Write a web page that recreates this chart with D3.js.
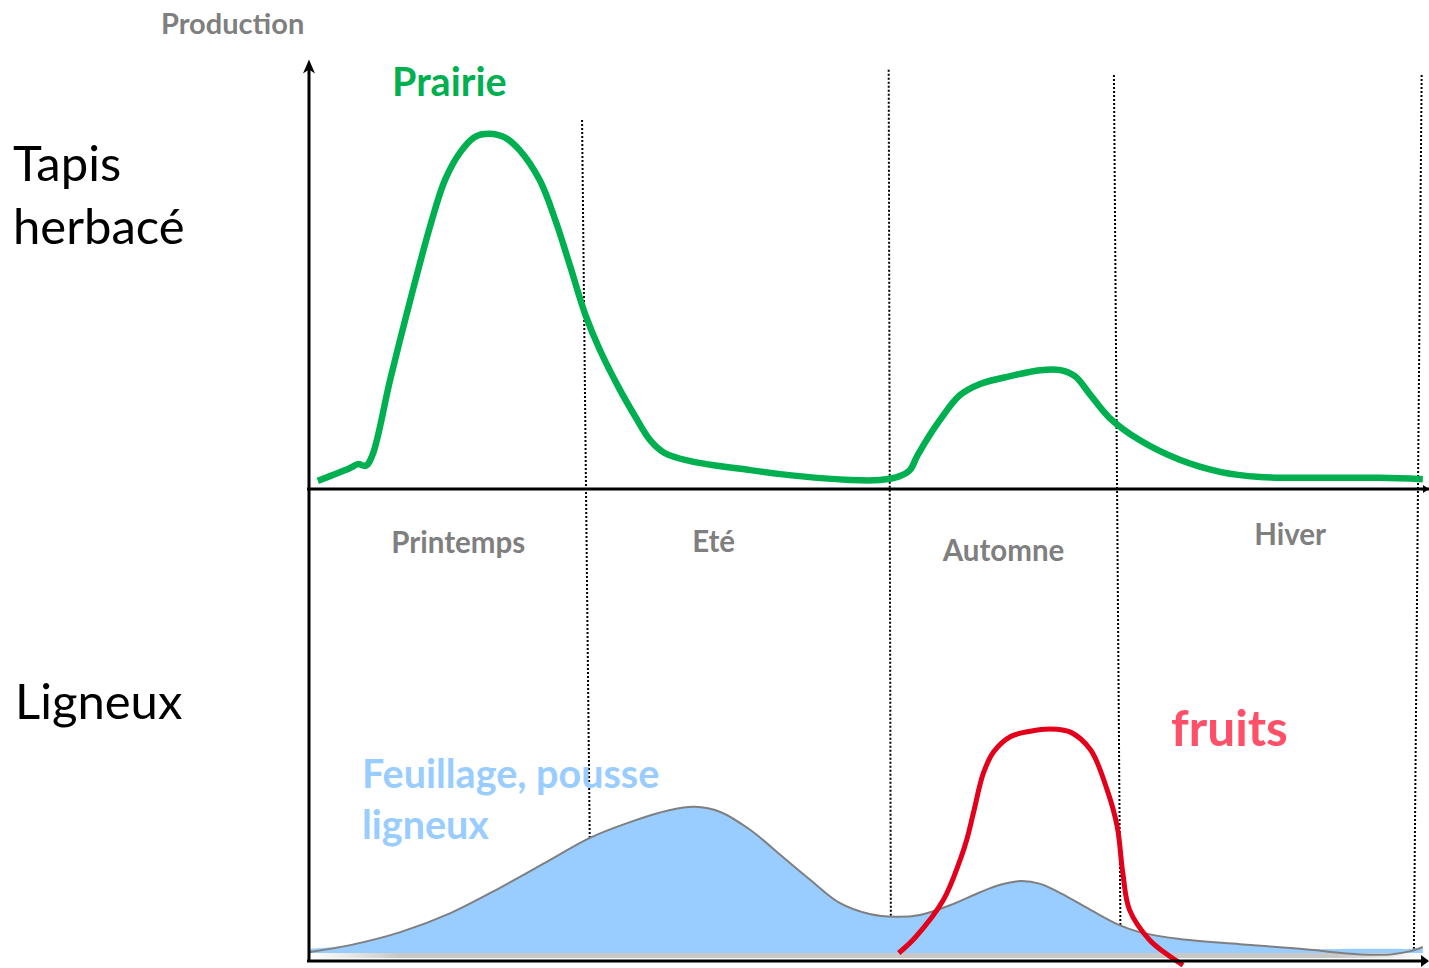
<!DOCTYPE html>
<html><head><meta charset="utf-8">
<script src="https://cdn.jsdelivr.net/npm/d3@7"></script>
<style>html,body{margin:0;padding:0;background:#fff;}svg{display:block;}</style>
</head><body>
<svg id="chart" width="1429" height="968"></svg>
<script>
// ---- data (x: position through the year 0..100, y: production 0..100) ----
const prairieX = [0.7,3.6,4.3,5.0,5.6,7.2,9.0,10.8,12.1,13.5,14.8,16.1,17.5,18.8,20.6,22.0,23.3,24.7,26.0,27.8,29.1,30.5,31.8,34.1,39.5,43.9,48.4,51.1,52.9,53.8,54.5,56.5,58.3,60.1,62.8,65.5,67.3,68.6,70.0,71.7,74.4,78.0,81.6,85.2,90.6,96.0,99.8];
const prairieY = [1.9,4.9,5.8,5.4,7.9,25.6,44.1,61.5,72.0,78.6,82.1,82.8,81.9,79.0,72.0,62.7,52.2,40.6,32.4,23.1,17.2,11.4,8.4,6.5,4.4,3.0,2.1,2.1,3.0,4.4,7.9,16.1,21.9,24.5,26.3,27.7,27.7,26.3,21.9,16.6,11.4,6.8,4.0,2.8,2.6,2.6,2.3];

const feuillageX = [0,3.6,8.1,12.6,17.0,21.5,25.1,28.7,32.3,34.5,36.8,39.5,42.2,44.8,47.5,50.2,52.5,54.7,57.4,60.1,61.9,63.7,65.5,67.3,70.0,72.6,74.4,78.0,83.4,88.8,94.2,96.9,98.7,99.8];
const feuillageY = [0.2,1.7,4.5,8.6,14.0,20.0,24.8,28.2,30.8,31.5,30.4,26.5,21.1,15.9,10.8,8.4,7.8,8.2,10.3,13.1,14.7,15.5,14.9,12.9,9.3,6.0,4.5,3.0,1.9,0.9,-0.3,-0.3,0.4,1.3];

const fruitsX = [52.8,54.3,56.8,58.3,58.9,59.5,60.4,61.3,62.8,64.6,66.4,68.2,70.0,71.5,72.4,72.9,73.5,75.3,76.7,78.3];
const fruitsY = [0,3.4,11.4,20.0,24.4,30.2,38.8,43.3,46.6,47.8,48.3,47.6,43.8,35.1,27.2,17.2,9.3,2.8,0,-2.6];

const seasons = ["Printemps","Eté","Automne","Hiver"];
const seasonLabelX = [13.3,36.2,62.2,87.9];
const dividerTopX = [24.4,51.9,72.1,99.7];
const dividerBottomX = [25.2,52.1,72.7,99.0];
const dividerTopY = [86.0,97.7,96.5,96.5];

// ---- layout ----
const svg = d3.select("#chart");
const x = d3.scaleLinear().domain([0,100]).range([310,1425]);
const yTop = d3.scaleLinear().domain([0,100]).range([489,60]);
const yBot = d3.scaleLinear().domain([0,100]).range([953,489]);

const defs = svg.append("defs");
const g2 = defs.append("linearGradient").attr("id","shadowH").attr("x1",0).attr("y1",0).attr("x2",1).attr("y2",0);
g2.append("stop").attr("offset","0%").attr("stop-color","#ffffff");
g2.append("stop").attr("offset","8%").attr("stop-color","#c8c8c8");
g2.append("stop").attr("offset","92%").attr("stop-color","#c8c8c8");
g2.append("stop").attr("offset","100%").attr("stop-color","#ffffff");

// dividers (drawn beneath the foliage area)
seasons.forEach((s,i)=>{
  svg.append("line")
    .attr("x1",x(dividerTopX[i])).attr("y1",yTop(dividerTopY[i]))
    .attr("x2",x(dividerBottomX[i])).attr("y2",yBot(-0.4))
    .attr("stroke","#000").attr("stroke-width",2).attr("stroke-dasharray","2,2");
});

// ground shadow under the bottom panel
svg.append("rect").attr("x",x(0)).attr("y",yBot(0)).attr("width",x(100)-x(0)).attr("height",5).attr("fill","url(#shadowH)");

// feuillage area
const feuData = feuillageX.map((d,i)=>[d,feuillageY[i]]);
svg.append("path").datum(feuData)
  .attr("d", d3.area().x(d=>x(d[0])).y0(yBot(0)).y1(d=>yBot(Math.max(d[1],0.9))).curve(d3.curveCatmullRom))
  .attr("fill","#99ccff");
svg.append("path").datum(feuData)
  .attr("d", d3.line().x(d=>x(d[0])).y(d=>yBot(d[1])).curve(d3.curveCatmullRom))
  .attr("fill","none").attr("stroke","#7f7f7f").attr("stroke-width",2);

// prairie
svg.append("path").datum(prairieX.map((d,i)=>[d,prairieY[i]]))
  .attr("d", d3.line().x(d=>x(d[0])).y(d=>yTop(d[1])).curve(d3.curveCatmullRom))
  .attr("fill","none").attr("stroke","#00b050").attr("stroke-width",6.5).attr("stroke-linejoin","round");

// fruits
svg.append("path").datum(fruitsX.map((d,i)=>[d,fruitsY[i]]))
  .attr("d", d3.line().x(d=>x(d[0])).y(d=>yBot(d[1])).curve(d3.curveCatmullRom))
  .attr("fill","none").attr("stroke","#e2001a").attr("stroke-width",5);

// axes
const ax = svg.append("g").attr("stroke","#000").attr("stroke-width",3).attr("fill","none");
ax.append("line").attr("x1",309).attr("y1",yTop(98)).attr("x2",309).attr("y2",962);
ax.append("line").attr("x1",307).attr("y1",yTop(0)).attr("x2",1429).attr("y2",yTop(0));
ax.append("line").attr("x1",307).attr("y1",961).attr("x2",1427).attr("y2",961);
svg.append("path").attr("d",`M${309},${yTop(98)-9} l-6,14 l6,-4 l6,4 z`).attr("fill","#000");
svg.append("path").attr("d",`M1429,961 l-8,-6 l0,12 z`).attr("fill","#000");
svg.append("path").attr("d",`M1429,489 l-6,-4 l0,8 z`).attr("fill","#000");

// texts
const font = "Lato, 'Noto Sans', sans-serif";
svg.append("text").attr("x",161).attr("y",34).text("Production")
  .attr("font-family",font).attr("font-weight","bold").attr("font-size",29).attr("fill","#7f7f7f");
svg.append("text").attr("x",392).attr("y",96).text("Prairie")
  .attr("font-family",font).attr("font-weight","bold").attr("font-size",39.5).attr("fill","#00b050");
svg.selectAll("text.season").data(seasons).join("text").attr("class","season")
  .attr("x",(d,i)=>x(seasonLabelX[i])).attr("y",(d,i)=>[553,552,561,545][i])
  .attr("text-anchor","middle").text(d=>d)
  .attr("font-family",font).attr("font-weight","bold").attr("font-size",29.5).attr("fill","#7f7f7f");
const big = [["Tapis",13,181],["herbacé",13,244],["Ligneux",15,719]];
big.forEach(b=>svg.append("text").attr("x",b[1]).attr("y",b[2]).text(b[0])
  .attr("font-family",font).attr("font-size",49).attr("fill","#000"));
svg.append("text").attr("x",362).attr("y",788).text("Feuillage, pousse")
  .attr("font-family",font).attr("font-weight","bold").attr("font-size",39.5).attr("fill","#99ccff");
svg.append("text").attr("x",362).attr("y",839).text("ligneux")
  .attr("font-family",font).attr("font-weight","bold").attr("font-size",39.5).attr("fill","#99ccff");
svg.append("text").attr("x",1171).attr("y",746).text("fruits")
  .attr("font-family",font).attr("font-weight","bold").attr("font-size",49.5).attr("fill","#ff4f69");
</script>
</body></html>
